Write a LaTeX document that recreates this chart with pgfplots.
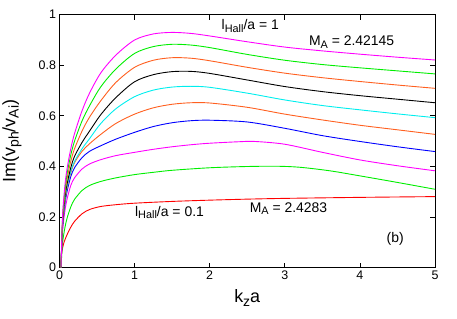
\documentclass[border=0pt]{standalone}
\usepackage{fontspec}
\setmainfont{Liberation Sans}
\usepackage{pgfplots}
\pgfplotsset{compat=1.18}
\definecolor{gmag}{RGB}{255,0,255}
\definecolor{ggreen}{RGB}{0,238,0}
\definecolor{gorange}{RGB}{255,96,32}
\definecolor{gcyan}{RGB}{0,238,238}
\definecolor{gblue}{RGB}{0,0,255}
\definecolor{gred}{RGB}{255,0,0}
\newcommand{\sub}[1]{\raisebox{-0.35ex}{\scalebox{0.78}{#1}}}
\begin{document}
\begin{tikzpicture}
\path[use as bounding box] (-59.5bp,-51.3bp) rectangle (397.5bp,267.7bp);
\begin{axis}[
  scale only axis,
  width=375.5bp, height=253bp,
  xmin=0, xmax=5, ymin=0, ymax=1,
  xtick={0,1,2,3,4,5},
  ytick={0,0.2,0.4,0.6,0.8,1},
  yticklabels={0,0.2,0.4,0.6,0.8,1},
  xticklabels={0,1,2,3,4,5},
  tick align=inside,
  major tick length=5bp,
  tick style={black, line width=0.8bp},
  axis line style={line width=0.9bp},
  tick label style={font=\fontsize{12.5}{14}\selectfont},
  /pgf/number format/assume math mode=true,
  xlabel={k\sub{z}a},
  ylabel={Im(v\sub{ph}/v\sub{Ai})},
  label style={font=\fontsize{18}{20}\selectfont},
  xlabel style={at={(axis description cs:0.5,-0.12)}, anchor=center},
  ylabel style={at={(axis description cs:-0.1265,0.5)}, anchor=center, rotate=0},
  every axis plot/.append style={line width=0.9bp, smooth, tension=0.5},
  clip=true,
]
% red  lHall/a = 0.1
\addplot[gred] coordinates {(0.01,0) (0.03,0.06) (0.06,0.10) (0.1,0.13) (0.15,0.16) (0.2,0.183) (0.3,0.213) (0.4,0.23) (0.55,0.242) (0.75,0.249) (1.0,0.255) (1.5,0.262) (2.0,0.267) (2.5,0.271) (3.0,0.274) (4.0,0.278) (5.0,0.281)};
% green 2
\addplot[ggreen] coordinates {(0.02,0) (0.04,0.095) (0.07,0.155) (0.1,0.195) (0.15,0.24) (0.2,0.27) (0.3,0.305) (0.4,0.325) (0.55,0.341) (0.75,0.355) (1.0,0.368) (1.25,0.377) (1.5,0.385) (2.0,0.395) (2.5,0.400) (2.9,0.401) (3.2,0.397) (3.6,0.383) (4.0,0.363) (4.5,0.337) (5.0,0.310)};
% magenta 2
\addplot[gmag] coordinates {(0.02,0) (0.04,0.14) (0.07,0.22) (0.1,0.27) (0.15,0.325) (0.2,0.355) (0.3,0.39) (0.4,0.41) (0.55,0.427) (0.75,0.443) (1.0,0.456) (1.25,0.468) (1.5,0.478) (1.75,0.486) (2.0,0.492) (2.4,0.498) (2.6,0.499) (3.0,0.488) (3.5,0.456) (4.0,0.426) (4.5,0.403) (5.0,0.383)};
% blue
\addplot[gblue] coordinates {(0.02,0) (0.04,0.155) (0.07,0.245) (0.1,0.30) (0.15,0.36) (0.2,0.395) (0.3,0.435) (0.4,0.46) (0.55,0.482) (0.75,0.508) (1.0,0.535) (1.25,0.558) (1.5,0.573) (1.75,0.581) (2.0,0.583) (2.5,0.576) (3.0,0.551) (3.5,0.522) (4.0,0.499) (4.5,0.478) (5.0,0.459)};
% orange 2
\addplot[gorange] coordinates {(0.02,0) (0.04,0.16) (0.07,0.255) (0.1,0.315) (0.15,0.375) (0.2,0.415) (0.3,0.46) (0.4,0.49) (0.55,0.527) (0.75,0.57) (1.0,0.607) (1.25,0.632) (1.5,0.646) (1.75,0.652) (2.0,0.651) (2.5,0.634) (3.0,0.607) (3.5,0.584) (4.0,0.563) (4.5,0.545) (5.0,0.527)};
% cyan
\addplot[gcyan] coordinates {(0.02,0) (0.04,0.165) (0.07,0.26) (0.1,0.32) (0.15,0.38) (0.2,0.42) (0.3,0.47) (0.4,0.51) (0.55,0.57) (0.75,0.628) (1.0,0.676) (1.25,0.702) (1.5,0.714) (1.75,0.717) (2.0,0.713) (2.5,0.690) (3.0,0.663) (3.5,0.641) (4.0,0.624) (4.5,0.608) (5.0,0.593)};
% black
\addplot[black] coordinates {(0.02,0) (0.04,0.17) (0.07,0.27) (0.1,0.33) (0.15,0.395) (0.2,0.44) (0.3,0.495) (0.4,0.54) (0.55,0.605) (0.75,0.672) (1.0,0.735) (1.25,0.763) (1.5,0.775) (1.75,0.776) (2.0,0.768) (2.5,0.742) (3.0,0.716) (3.5,0.696) (4.0,0.680) (4.5,0.666) (5.0,0.652)};
% orange 1
\addplot[gorange] coordinates {(0.02,0) (0.04,0.18) (0.07,0.285) (0.1,0.35) (0.15,0.42) (0.2,0.47) (0.3,0.54) (0.4,0.595) (0.55,0.66) (0.75,0.732) (1.0,0.792) (1.25,0.820) (1.5,0.830) (1.75,0.828) (2.0,0.818) (2.5,0.792) (3.0,0.769) (3.5,0.751) (4.0,0.736) (4.5,0.722) (5.0,0.709)};
% green 1
\addplot[ggreen] coordinates {(0.02,0) (0.04,0.19) (0.07,0.30) (0.1,0.37) (0.15,0.445) (0.2,0.50) (0.3,0.58) (0.4,0.64) (0.55,0.715) (0.75,0.785) (1.0,0.847) (1.25,0.874) (1.5,0.883) (1.75,0.880) (2.0,0.870) (2.5,0.843) (3.0,0.820) (3.5,0.803) (4.0,0.790) (4.5,0.778) (5.0,0.766)};
% magenta 1  lHall/a = 1
\addplot[gmag] coordinates {(0.02,0) (0.04,0.20) (0.07,0.32) (0.1,0.39) (0.15,0.47) (0.2,0.53) (0.3,0.62) (0.4,0.69) (0.55,0.77) (0.75,0.84) (1.0,0.90) (1.25,0.924) (1.5,0.930) (1.75,0.926) (2.0,0.916) (2.5,0.893) (3.0,0.872) (3.5,0.857) (4.0,0.844) (4.5,0.832) (5.0,0.821)};
\node[font=\fontsize{14}{16}\selectfont] at (axis cs:2.54,0.955) {l\sub{Hall}/a = 1};
\node[font=\fontsize{14}{16}\selectfont] at (axis cs:3.89,0.892) {M\sub{A} = 2.42145};
\node[font=\fontsize{14}{16}\selectfont] at (axis cs:1.465,0.218) {l\sub{Hall}/a = 0.1};
\node[font=\fontsize{14}{16}\selectfont] at (axis cs:3.05,0.234) {M\sub{A} = 2.4283};
\node[font=\fontsize{14}{16}\selectfont] at (axis cs:4.47,0.113) {(b)};
\end{axis}
\end{tikzpicture}
\end{document}
